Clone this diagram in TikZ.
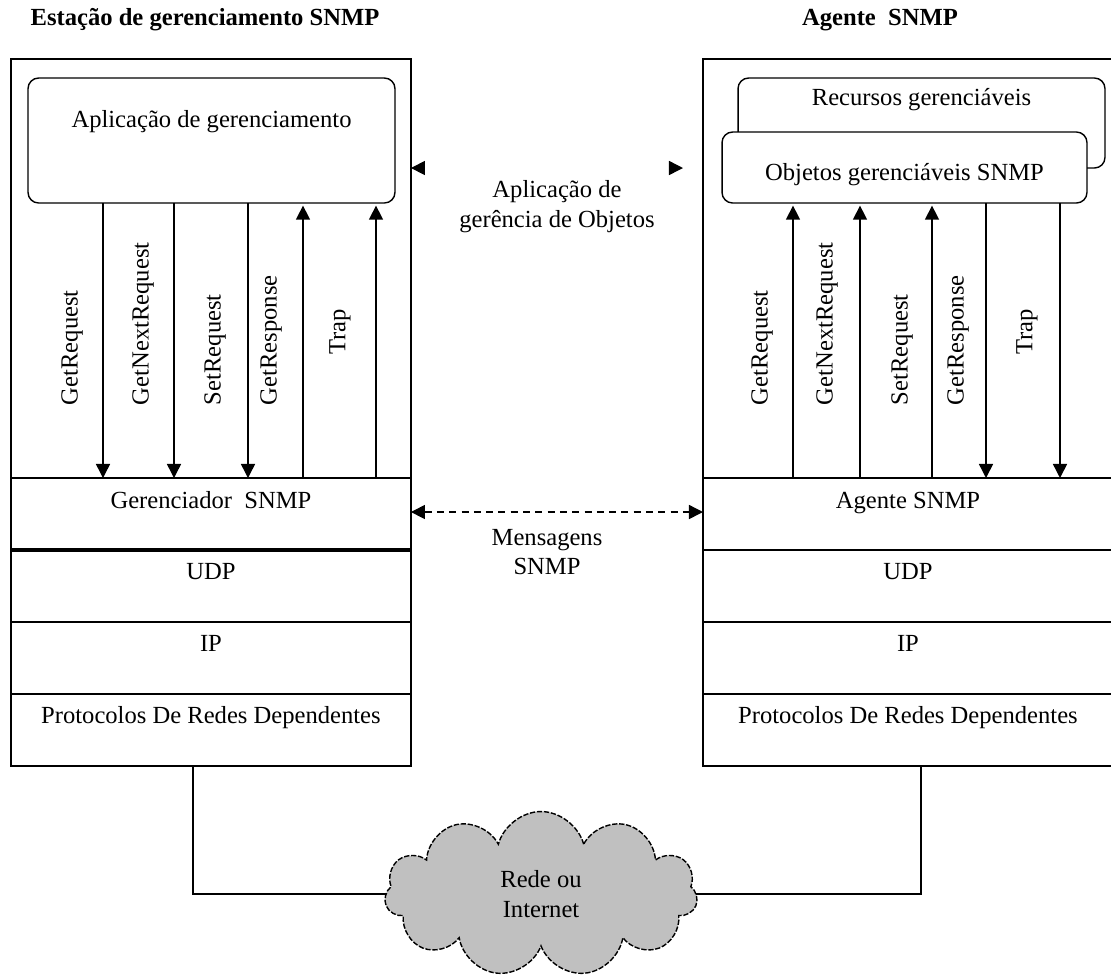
\documentclass[tikz,border=0pt]{standalone}
\usepackage{fontspec}
\setmainfont{Liberation Serif}
\usetikzlibrary{shapes.symbols, arrows.meta, positioning}
\definecolor{cloudgray}{RGB}{192, 192, 192}

\begin{document}
\begin{tikzpicture}[
  x=0.02cm, y=-0.02cm,
  font=\fontsize{14}{17}\selectfont,
  every node/.style={inner sep=0pt, outer sep=0pt},
  frame/.style={draw, line width=0.8pt, anchor=north west, minimum height=14.14cm, minimum width=#1},
  layer/.style={draw, line width=0.8pt, minimum width=#1, text height=0.6cm, text depth=0.84cm},
  appbox/.style={draw, fill=white, line width=0.8pt, rounded corners=6pt},
  vlab/.style={rotate=90, anchor=west},
  msg/.style={line width=0.8pt, -{Triangle[width=8pt, length=8pt]}},
  title/.style={font=\fontsize{14}{17}\selectfont\bfseries}
]
  \useasboundingbox (0,0) rectangle (1111,975);

  \node[title] (titEst) at (205,20) {Estação de gerenciamento SNMP};
  \node[title] (titAg) at (880,20) {Agente\ \ SNMP};

  \node[frame=8cm] (estacao) at (11,59) {};
  \node[frame=8.2cm] (agente) at (703,59) {};

  \node[layer=8cm, anchor=north west] (gerL) at (11,478) {Gerenciador\ \ SNMP};
  \node[layer=8cm, below=0pt of gerL] (udpL) {UDP};
  \node[layer=8cm, below=0pt of udpL] (ipL) {IP};
  \node[layer=8cm, below=0pt of ipL] (protL) {Protocolos De Redes Dependentes};
  \draw[line width=1.8pt] (gerL.south west) -- (gerL.south east);

  \node[layer=8.2cm, anchor=north west] (agL) at (703,478) {Agente SNMP};
  \node[layer=8.2cm, below=0pt of agL] (udpR) {UDP};
  \node[layer=8.2cm, below=0pt of udpR] (ipR) {IP};
  \node[layer=8.2cm, below=0pt of ipR] (protR) {Protocolos De Redes Dependentes};

  \node[appbox, minimum width=7.34cm, text height=0.98cm, text depth=1.52cm] (aplic) at (211.5,140.5) {Aplicação de gerenciamento};
  \node[appbox, minimum width=7.34cm, text height=0.54cm, text depth=1.26cm] (recursos) at (921.5,123) {Recursos gerenciáveis};
  \node[appbox, minimum width=7.3cm, text height=0.96cm, text depth=0.46cm] (objetos) at (904.5,167.5) {Objetos gerenciáveis SNMP};

  \foreach \x in {103,174,248}
    \draw[msg] (\x,0 |- aplic.south) -- (\x,0 |- gerL.north);
  \foreach \x in {303,376}
    \draw[msg, shorten >=1.5pt] (\x,0 |- gerL.north) -- (\x,0 |- aplic.south);
  \node[vlab] (lgr) at (72,405) {GetRequest};
  \node[vlab] (lgnr) at (143,405) {GetNextRequest};
  \node[vlab] (lsr) at (215,405) {SetRequest};
  \node[vlab] (lgrs) at (271,405) {GetResponse};
  \node[rotate=90] (ltrap) at (340,332) {Trap};

  \foreach \x in {793,860,932}
    \draw[msg, shorten >=1.5pt] (\x,0 |- agL.north) -- (\x,0 |- objetos.south);
  \foreach \x in {986,1060}
    \draw[msg] (\x,0 |- objetos.south) -- (\x,0 |- agL.north);
  \node[vlab] (rgr) at (762,405) {GetRequest};
  \node[vlab] (rgnr) at (827,405) {GetNextRequest};
  \node[vlab] (rsr) at (902,405) {SetRequest};
  \node[vlab] (rgrs) at (958,405) {GetResponse};
  \node[rotate=90] (rtrap) at (1027,332) {Trap};

  \coordinate (apptip) at (683,168);
  \draw[white, line width=0.8pt, {Triangle[black, width=8pt, length=8pt]}-{Triangle[black, width=8pt, length=8pt]}] (estacao.east |- apptip) -- (apptip);
  \node[align=center] (apptxt) at (557,207) {Aplicação de\\gerência de Objetos};

  \draw[line width=0.8pt, dash pattern=on 4pt off 3pt, {Triangle[width=8pt, length=8pt]}-{Triangle[width=8pt, length=8pt]}] (estacao.east |- 0,512) -- (agente.west |- 0,512);
  \node[align=center] (msgtxt) at (547,552) {Mensagens\\SNMP};

  \node[cloud, draw, fill=cloudgray, line width=0.8pt, dash pattern=on 3pt off 1pt, cloud puffs=11, minimum width=6.26cm, minimum height=3.3cm, align=center] (rede) at (541,894) {Rede ou\\Internet};
  \draw[line width=0.8pt] (193,0 |- protL.south) |- (rede.west);
  \draw[line width=0.8pt] (921,0 |- protR.south) |- (rede.east);
\end{tikzpicture}
\end{document}
